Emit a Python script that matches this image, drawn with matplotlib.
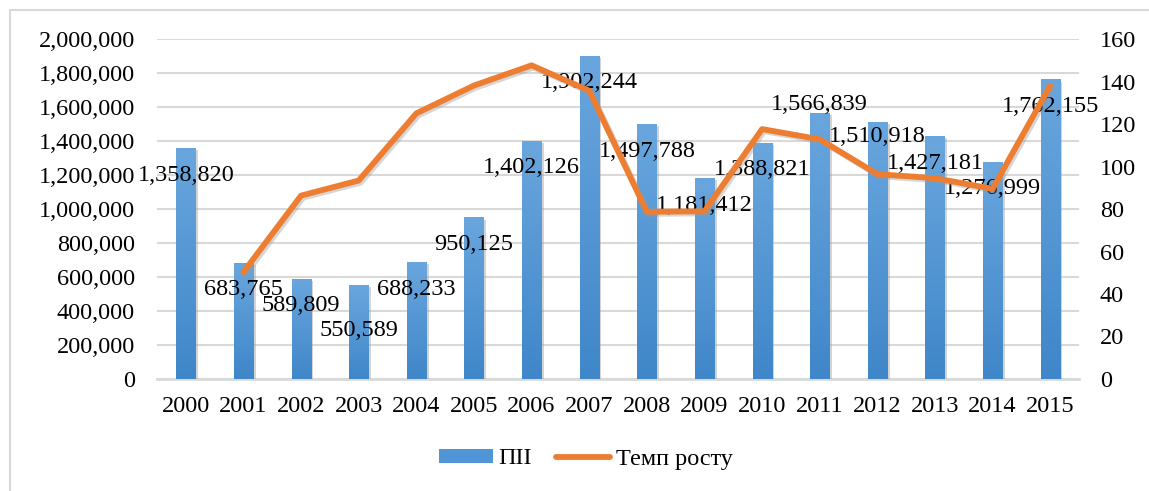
import numpy as np
import matplotlib; matplotlib.use("Agg")
import matplotlib.pyplot as plt
import matplotlib.patheffects as pe
from matplotlib.lines import Line2D
from matplotlib.patches import Patch, Rectangle
from matplotlib.colors import LinearSegmentedColormap
from matplotlib.ticker import FuncFormatter, MultipleLocator

years = ["2000","2001","2002","2003","2004","2005","2006","2007",
         "2008","2009","2010","2011","2012","2013","2014","2015"]
fdi = [1358820, 683765, 589809, 550589, 688233, 950125, 1402126, 1902244,
       1497788, 1181412, 1388821, 1566839, 1510918, 1427181, 1276999, 1762155]
# темп росту, % (з 2001)
growth = [np.nan, 50.3, 86.3, 93.4, 125.0, 138.1, 147.6, 135.7,
          78.7, 78.9, 117.6, 112.8, 96.4, 94.5, 89.5, 138.0]

plt.rcParams["font.family"] = ["Liberation Serif", "DejaVu Serif"]
FS = 17.5
BLUE = "#5096d6"; ORANGE = "#ED7D31"; GRID = "#d9d9d9"
grad = LinearSegmentedColormap.from_list("g", ["#3f87c9", "#6aa6de"])

fig = plt.figure(figsize=(11.49, 4.91), dpi=100)
W, H = 1149, 491
fig.patches.append(Rectangle((10/W, -0.1), 1.2, 1 - 10/H + 0.1, transform=fig.transFigure,
                             fill=False, edgecolor="#d9d9d9", linewidth=1.5))
ax = fig.add_axes([157/W, 1 - 379/H, (1079-157)/W, (379-39)/H])
x = np.arange(len(years))
bars = ax.bar(x, fdi, width=0.33, color=BLUE, zorder=3,
              path_effects=[pe.SimplePatchShadow(offset=(2, -1.5), shadow_rgbFace="#a0a0a0", alpha=0.45), pe.Normal()])
ax.set_ylim(0, 2000000); ax.set_xlim(-0.5, len(years) - 0.5)
g = np.linspace(0, 1, 256).reshape(-1, 1)
for b in bars:
    bx, by, bw, bh = b.get_x(), b.get_y(), b.get_width(), b.get_height()
    im = ax.imshow(g, cmap=grad, origin="lower", aspect="auto", extent=(bx, bx + bw, by, by + bh), zorder=3.5)
    im.set_clip_path(b)
ax.set_xlim(-0.5, len(years) - 0.5); ax.set_ylim(0, 2000000)
ax.yaxis.set_major_locator(MultipleLocator(200000))
ax.yaxis.set_major_formatter(FuncFormatter(lambda v, p: f"{int(v):,}"))
ax.grid(axis="y", color=GRID, linewidth=1.5, zorder=0)
ax.set_xticks(x, years)
for s in ["top", "right", "left"]:
    ax.spines[s].set_visible(False)
ax.spines["bottom"].set_color(GRID); ax.spines["bottom"].set_linewidth(2)
ax.tick_params(axis="both", length=0, labelsize=FS)
ax.tick_params(axis="y", pad=16)
ax.tick_params(axis="x", pad=12)

lab_off = {"2003": -45, "2011": 8, "2012": -14}
for xi, yr, v in zip(x, years, fdi):
    ax.annotate(f"{v:,}", (xi, v), xytext=(0, lab_off.get(yr, -27)), textcoords="offset pixels",
                ha="center", va="center", fontsize=FS, zorder=6)

ax2 = ax.twinx()
ax2.plot(x, growth, color=ORANGE, linewidth=4.2, solid_capstyle="round", zorder=5,
         path_effects=[pe.SimpleLineShadow(offset=(1.5, -1.5), shadow_color="#999999", alpha=0.4), pe.Normal()])
ax2.set_ylim(0, 160)
ax2.yaxis.set_major_locator(MultipleLocator(20))
for s in ["top", "right", "left", "bottom"]:
    ax2.spines[s].set_visible(False)
ax2.tick_params(axis="y", length=0, labelsize=FS, pad=15)
ax.set_zorder(1); ax.patch.set_visible(False)
ax2.set_zorder(2)

handles = [Patch(facecolor=BLUE, label="ПІІ"), Line2D([], [], color=ORANGE, linewidth=4.2, solid_capstyle="round", label="Темп росту")]
fig.legend(handles=handles, loc="center", bbox_to_anchor=(586/W, 1 - 459/H), ncol=2, frameon=False,
           fontsize=FS, handlelength=2.2, handleheight=0.5, columnspacing=1.0, handletextpad=0.25)
fig.savefig("out.png", dpi=100)
